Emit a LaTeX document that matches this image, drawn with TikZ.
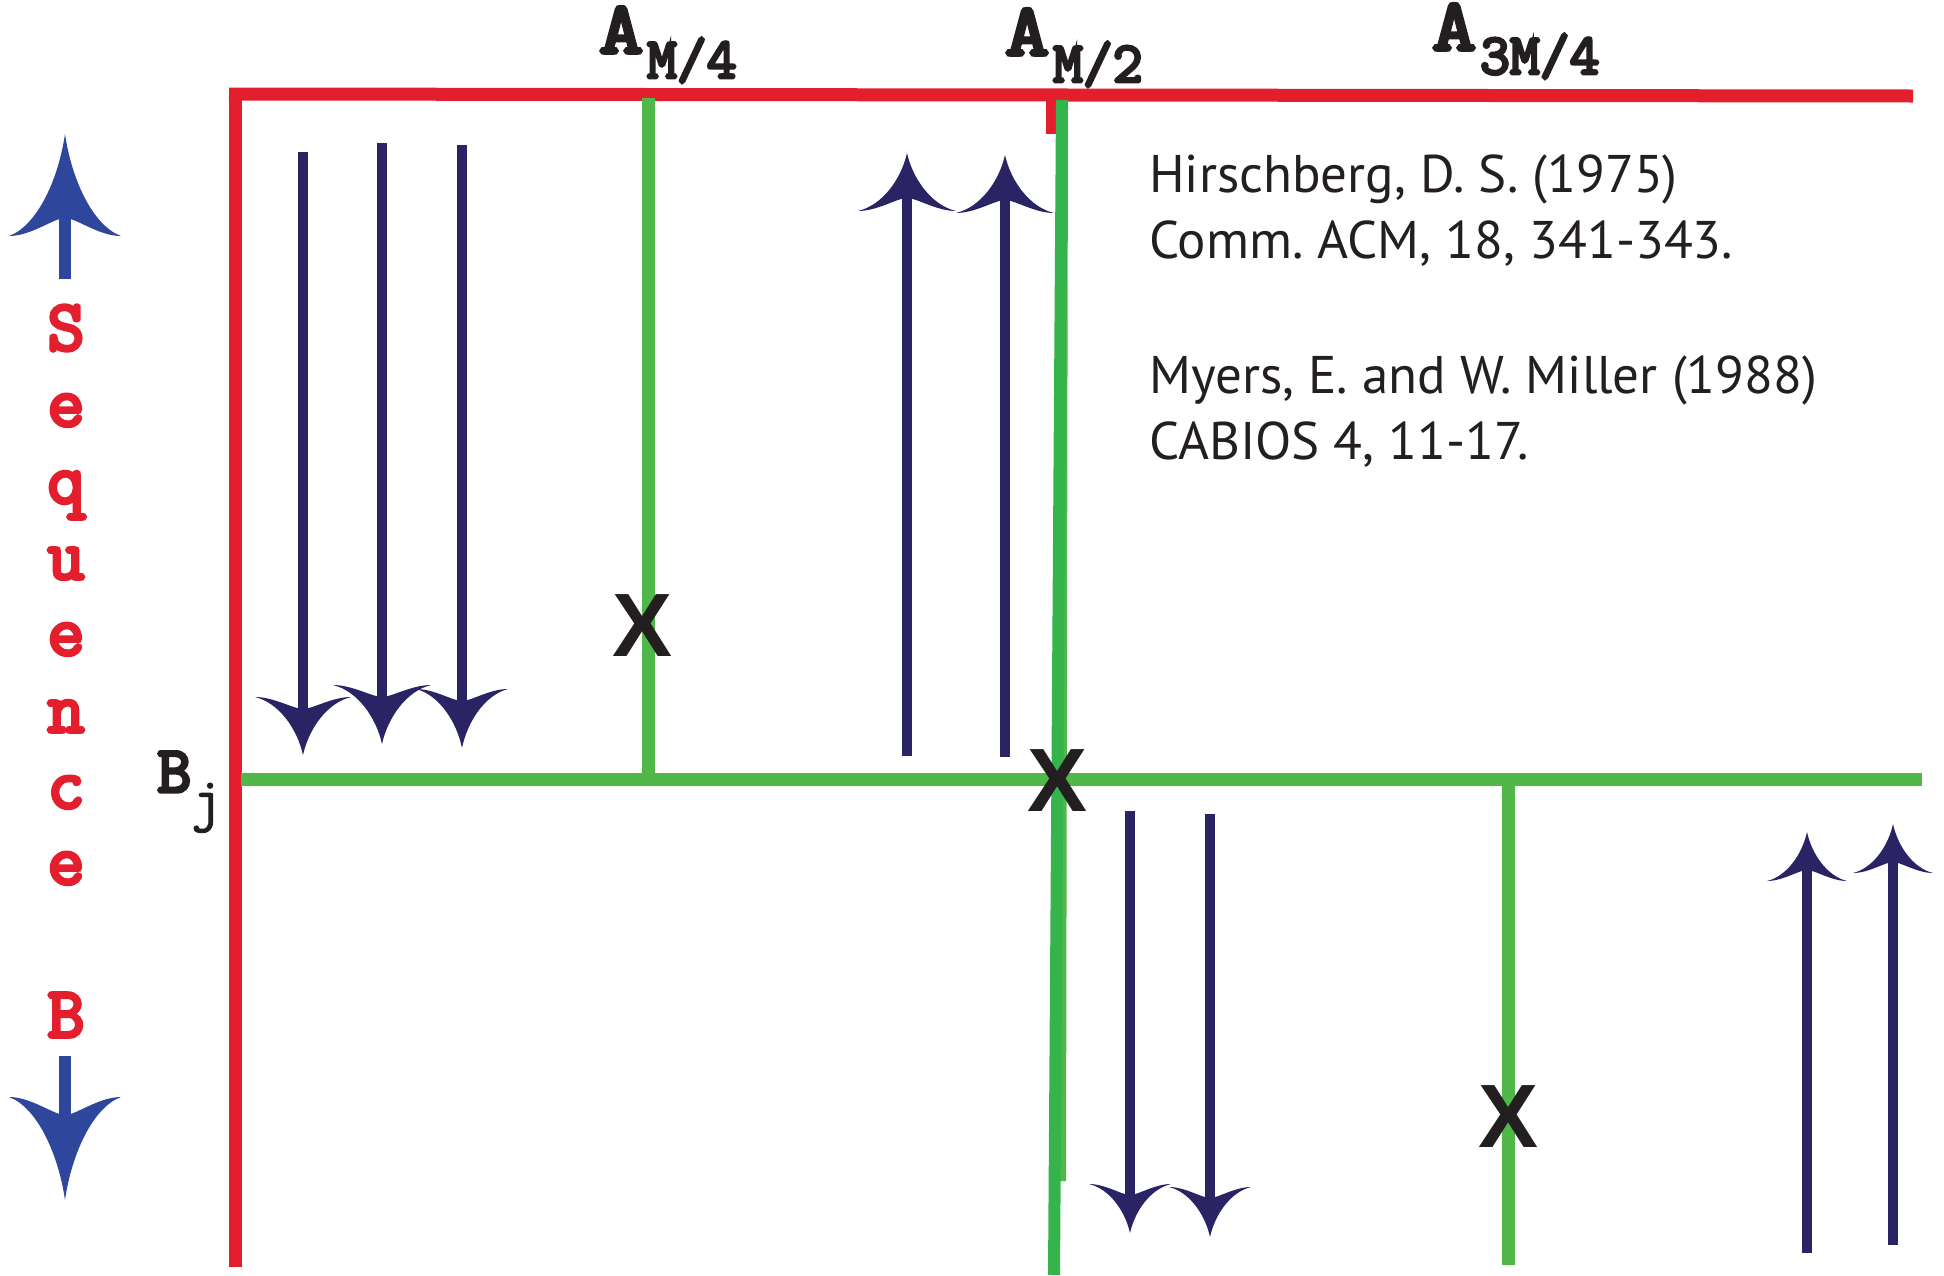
\documentclass[tikz,border=0pt]{standalone}
\usepackage{fontspec}
\setmainfont{PT Sans}
\newfontfamily\xfont{Liberation Sans}
\newfontfamily\tyb{Latin Modern Mono}[FakeBold=5]
\newfontfamily\tyr{Latin Modern Mono}[FakeBold=1.5]
\definecolor{sred}{RGB}{227,30,45}
\definecolor{sgreen}{RGB}{80,184,72}
\definecolor{sgreentwo}{RGB}{52,180,74}
\definecolor{navy}{RGB}{43,36,100}
\definecolor{sblue}{RGB}{46,70,155}
\definecolor{xblack}{RGB}{35,31,32}
\newcommand\ahead[7]{% x, tip y, half width, height, back depth, sign (1 down, -1 up), colour
  \fill[#7, shift={(#1,#2)}, yscale=#6]
    (0,0) .. controls (-0.12*#3,-0.45*#4) and (-0.5*#3,-0.9*#4) .. (-#3,-#4)
    .. controls (-0.6*#3,-#4) and (-0.2*#3,-#4+#5) .. (0,-#4+#5)
    .. controls (0.2*#3,-#4+#5) and (0.6*#3,-#4) .. (#3,-#4)
    .. controls (0.5*#3,-0.9*#4) and (0.12*#3,-0.45*#4) .. (0,0) -- cycle;}
\tikzset{
  redline/.style={draw=sred, line width=13pt},
  greenline/.style={draw=sgreen, line width=13pt},
  shaft/.style={draw=navy, line width=9.5pt},
  bshaft/.style={draw=sblue, line width=12pt},
  lbl/.style={inner sep=0pt, anchor=base west, text=xblack},
  seq/.style={inner sep=0pt, anchor=base, text=sred, font=\fontsize{72}{72}\selectfont\tyb},
  xmark/.style={inner sep=0pt, font=\fontsize{90}{90}\selectfont\xfont\bfseries, text=xblack},
  reftext/.style={inner sep=0pt, anchor=base west, font=\fontsize{53}{53}\selectfont\frenchspacing, text=xblack},
}
\newcommand\bigA{\fontsize{74}{74}\selectfont\tyb\scalebox{1.15}[1]{A}\kern4pt}
\newcommand\subsA[2]{\raisebox{-#1pt}{\fontsize{58}{58}\selectfont\tyb #2}}
\begin{document}
\begin{tikzpicture}[x=1pt,y=-1pt]
\useasboundingbox (0,0) rectangle (1944,1275);
% red axes
\coordinate (rTL) at (229,94);
\coordinate (rTR) at (1913,96);
\coordinate (rLT) at (235,88);
\coordinate (rLB) at (235,1267);
\coordinate (rtA) at (1051,94);
\coordinate (rtB) at (1051,134);
\draw[redline] (rTL) -- (rTR);
\draw[redline] (rLT) -- (rLB);
\draw[sred, line width=10pt] (rtA) -- (rtB);
% green lines
\coordinate (gAT) at (648,98);
\coordinate (gAB) at (648,779);
\coordinate (gHL) at (241,779);
\coordinate (gHR) at (1922,779);
\coordinate (gCT) at (1508,779);
\coordinate (gCB) at (1508,1265);
\coordinate (gMT) at (1062,100);
\coordinate (gMB) at (1054,1275);
\coordinate (gLT) at (1065,100);
\coordinate (gLB) at (1063,1181);
\draw[greenline] (gAT) -- (gAB);
\draw[greenline] (gHL) -- (gHR);
\draw[greenline] (gCT) -- (gCB);
\draw[sgreen, line width=6pt] (gLT) -- (gLB);
\draw[sgreentwo, line width=12pt] (gMT) -- (gMB);
% navy arrows, group 1 (down)
\coordinate (a1s) at (303,152); \coordinate (a1e) at (303,712);
\coordinate (a2s) at (382,143); \coordinate (a2e) at (382,700);
\coordinate (a3s) at (462,145); \coordinate (a3e) at (462,704);
\draw[shaft] (a1s) -- (a1e); \ahead{303}{755}{48}{58}{12}{1}{navy}
\draw[shaft] (a2s) -- (a2e); \ahead{382}{744}{49}{59}{12}{1}{navy}
\draw[shaft] (a3s) -- (a3e); \ahead{462}{748}{46}{59}{12}{1}{navy}
% group 2 (up)
\coordinate (b1s) at (907,756); \coordinate (b1e) at (907,196);
\coordinate (b2s) at (1005,757); \coordinate (b2e) at (1005,198);
\draw[shaft] (b1s) -- (b1e); \ahead{907}{153}{49}{58}{13}{-1}{navy}
\draw[shaft] (b2s) -- (b2e); \ahead{1005}{155}{49}{58}{13}{-1}{navy}
% group 3 (down)
\coordinate (c1s) at (1130,811); \coordinate (c1e) at (1130,1197);
\coordinate (c2s) at (1210,814); \coordinate (c2e) at (1210,1200);
\draw[shaft] (c1s) -- (c1e); \ahead{1130}{1233}{41}{49}{11}{1}{navy}
\draw[shaft] (c2s) -- (c2e); \ahead{1210}{1237}{41}{50}{11}{1}{navy}
% group 4 (up)
\coordinate (e1s) at (1807,1253); \coordinate (e1e) at (1807,868);
\coordinate (e2s) at (1893,1245); \coordinate (e2e) at (1893,860);
\draw[shaft] (e1s) -- (e1e); \ahead{1807}{832}{40}{49}{11}{-1}{navy}
\draw[shaft] (e2s) -- (e2e); \ahead{1893}{824}{40}{49}{11}{-1}{navy}
% blue side arrows
\coordinate (u1s) at (65,279); \coordinate (u1e) at (65,216);
\coordinate (d1s) at (65,1056); \coordinate (d1e) at (65,1117);
\draw[bshaft] (u1s) -- (u1e); \ahead{65}{134}{56}{102}{18}{-1}{sblue}
\draw[bshaft] (d1s) -- (d1e); \ahead{65}{1200}{56}{103}{18}{1}{sblue}
% X marks
\node[xmark] (x1) at (643,626) {X};
\node[xmark] (x2) at (1058,781) {X};
\node[xmark] (x3) at (1508,1117) {X};
% labels
\node[lbl] (am4) at (599,53) {\bigA\subsA{25}{M/4}};
\node[lbl] (am2) at (1005,55) {\bigA\subsA{27}{M/2}};
\node[lbl] (a3m4) at (1432,50) {\bigA\subsA{24}{3M/4}};
\node[lbl] (bj) at (157,792) {\fontsize{66}{66}\selectfont\tyb B\raisebox{-27pt}{\fontsize{60}{60}\selectfont\tyr j}};
% sequence B
\node[seq] (s1) at (66,350) {S};
\node[seq] (s2) at (66,426) {e};
\node[seq] (s3) at (66,503) {q};
\node[seq] (s4) at (66,579) {u};
\node[seq] (s5) at (66,655) {e};
\node[seq] (s6) at (66,732) {n};
\node[seq] (s7) at (66,808) {c};
\node[seq] (s8) at (66,884) {e};
\node[seq] (s9) at (66,1037) {B};
% references
\node[reftext] (r1) at (1149,192) {Hirschberg, D. S. (1975)};
\node[reftext] (r2) at (1149,258) {Comm. ACM, 18, 341-343.};
\node[reftext] (r3) at (1149,393) {Myers, E. and W. Miller (1988)};
\node[reftext] (r4) at (1149,459) {CABIOS 4, 11-17.};
\end{tikzpicture}
\end{document}
